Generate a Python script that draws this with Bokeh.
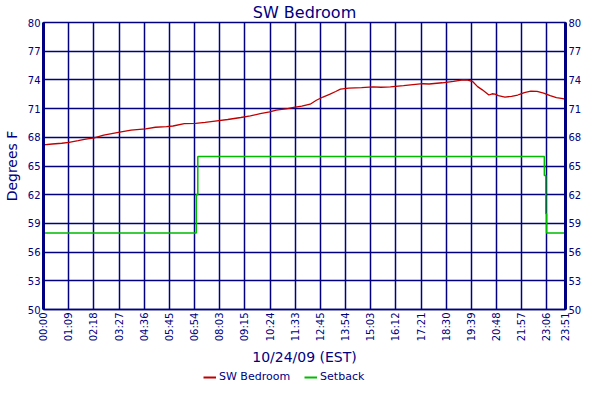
import math
from bokeh.plotting import figure
from bokeh.layouts import column
from bokeh.models import (LinearAxis, FixedTicker, Legend, LegendItem, Range1d)
from bokeh.embed import file_html
from bokeh.resources import INLINE

# ---- data (minutes after midnight, degrees F) ----
temp_minutes = [0, 24, 50, 70, 95, 112, 139, 165, 209, 240, 280, 307, 337, 355,
                386, 417, 443, 470, 505, 541, 567, 594, 620, 638, 669, 686, 708,
                731, 748, 766, 784, 801, 814, 837, 872, 903, 925, 951, 987, 1013,
                1040, 1057, 1093, 1124, 1150, 1163, 1177, 1190, 1203, 1221, 1230,
                1238, 1247, 1265, 1283, 1300, 1309, 1318, 1336, 1353, 1371, 1389,
                1406, 1424, 1431]
temp_values = [67.21, 67.30, 67.38, 67.48, 67.65, 67.79, 67.93, 68.23, 68.54,
               68.74, 68.88, 69.05, 69.12, 69.18, 69.42, 69.46, 69.56, 69.69,
               69.86, 70.07, 70.23, 70.48, 70.65, 70.85, 70.99, 71.12, 71.26,
               71.46, 71.87, 72.21, 72.48, 72.79, 73.03, 73.13, 73.20, 73.27,
               73.23, 73.27, 73.40, 73.50, 73.60, 73.57, 73.70, 73.85, 74.01,
               73.98, 73.81, 73.30, 72.96, 72.42, 72.55, 72.52, 72.35, 72.21,
               72.28, 72.42, 72.55, 72.68, 72.82, 72.79, 72.62, 72.35, 72.14,
               72.04, 71.97]

setback_minutes = [0, 419, 423, 1373, 1377, 1379, 1431]
setback_values = [58, 62, 66, 64, 60, 58, 58]

x_tick_minutes = [0, 69, 138, 207, 276, 345, 414, 483, 552, 621, 690, 759, 828,
                  897, 966, 1035, 1104, 1173, 1242, 1311, 1380, 1431]
x_tick_labels = ["00:00", "01:09", "02:18", "03:27", "04:36", "05:45", "06:54",
                 "08:03", "09:15", "10:24", "11:33", "12:45", "13:54", "15:03",
                 "16:12", "17:21", "18:30", "19:39", "20:48", "21:57", "23:06",
                 "23:51"]
y_ticks = [50, 53, 56, 59, 62, 65, 68, 71, 74, 77, 80]
series_names = ["SW Bedroom", "Setback"]

NAVY = "#000080"
RED = "#C00000"
GREEN = "#00BB00"
FONT = "DejaVu Sans"

p = figure(width=584, height=368, output_backend="svg",
           toolbar_location=None,
           x_range=Range1d(0, 1431), y_range=Range1d(50, 80),
           title="SW Bedroom")
p.min_border_left = 0
p.min_border_right = 0
p.min_border_top = 0
p.min_border_bottom = 0
p.background_fill_color = "white"
p.border_fill_color = "white"
p.outline_line_color = NAVY
p.outline_line_width = 1.5

p.title.align = "center"
p.title.text_font = FONT
p.title.text_font_size = "16px"
p.title.text_font_style = "normal"
p.title.text_color = NAVY
p.title.standoff = 1

p.line(temp_minutes, temp_values, line_color=RED, line_width=1.3)
p.step(setback_minutes, setback_values, mode="after", line_color=GREEN,
       line_width=1.5)

xt = FixedTicker(ticks=x_tick_minutes)
yt = FixedTicker(ticks=y_ticks)

xa = p.xaxis[0]
xa.ticker = xt
xa.major_label_overrides = {t: l for t, l in zip(x_tick_minutes, x_tick_labels)}
xa.major_label_orientation = math.pi / 2
xa.axis_label = "10/24/09 (EST)"

ya = p.yaxis[0]
ya.ticker = yt
ya.axis_label = "Degrees F"

ra = LinearAxis(ticker=FixedTicker(ticks=y_ticks))
p.add_layout(ra, "right")

for ax in [xa, ya, ra]:
    ax.major_tick_out = 0
    ax.major_tick_in = 0
    ax.minor_tick_out = 0
    ax.minor_tick_in = 0
    ax.major_label_text_font = FONT
    ax.major_label_text_font_size = "10px"
    ax.major_label_text_color = NAVY
    ax.major_label_standoff = 3
    ax.axis_label_text_font = FONT
    ax.axis_label_text_font_size = "14px"
    ax.axis_label_text_font_style = "normal"
    ax.axis_label_text_color = NAVY
    ax.axis_label_standoff = 5
    ax.axis_line_color = NAVY
xa.axis_line_width = 1.5
ya.axis_line_width = 3
ra.axis_line_width = 3

p.xgrid.ticker = xt
p.ygrid.ticker = yt
for g in [p.xgrid[0], p.ygrid[0]]:
    g.grid_line_color = NAVY
    g.grid_line_width = 1.5
    g.grid_line_alpha = 1.0

# ---- legend strip below the chart (series drawn far outside its ranges) ----
lg = figure(width=584, height=16, output_backend="svg", toolbar_location=None,
            x_axis_type=None, y_axis_type=None,
            x_range=Range1d(-2, -1), y_range=Range1d(-2, -1))
lg.min_border_left = 0
lg.min_border_right = 0
lg.min_border_top = 0
lg.min_border_bottom = 0
lg.grid.visible = False
lg.outline_line_color = None
lg.background_fill_color = "white"
lg.border_fill_color = "white"
k1 = lg.line(temp_minutes, temp_values, line_color=RED, line_width=2)
k2 = lg.line(setback_minutes, setback_values, line_color=GREEN, line_width=2)

legend = Legend(items=[LegendItem(label=series_names[0], renderers=[k1]),
                       LegendItem(label=series_names[1], renderers=[k2])],
                orientation="horizontal", location=(160, 1))
legend.border_line_color = None
legend.background_fill_alpha = 0
legend.padding = 0
legend.margin = 0
legend.spacing = 14
legend.glyph_width = 13
legend.glyph_height = 12
legend.label_height = 12
legend.label_standoff = 3
legend.label_text_font = FONT
legend.label_text_font_size = "11px"
legend.label_text_color = NAVY
lg.add_layout(legend, "center")

layout = column(p, lg, spacing=0)
open("out.html", "w").write(file_html(layout, INLINE))
